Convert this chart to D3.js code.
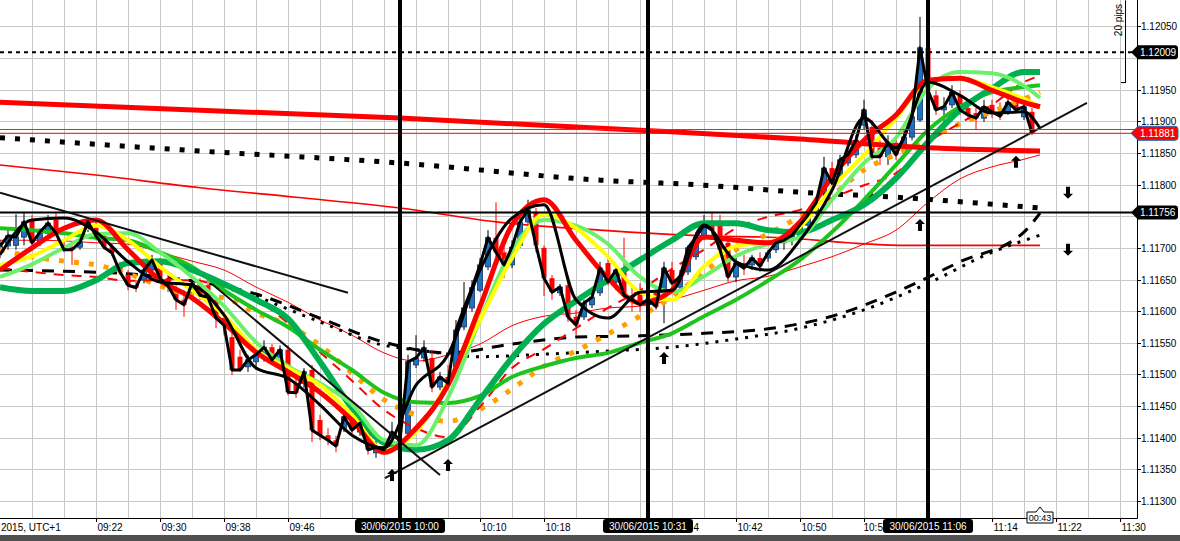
<!DOCTYPE html>
<html><head><meta charset="utf-8">
<script src="https://cdn.jsdelivr.net/npm/d3@7"></script>
<style>
html,body{margin:0;padding:0;background:#fff;overflow:hidden}
svg{display:block}
text{font-family:"Liberation Sans",Arial,sans-serif}
</style></head><body>
<svg id="c" width="1180" height="541"></svg>
<script>
// ---------------- DATA ----------------
const candleStart = "09:10"; // one candle per minute
const opens = [1.11693,1.11703,1.11704,1.11717,1.11744,1.11709,1.11723,1.11744,1.11704,1.11701,
1.11701,1.11733,1.11736,1.11719,1.11701,1.11670,1.11657,1.11641,1.11649,1.11665,
1.11676,1.11652,1.11637,1.11618,1.11629,1.11644,1.11641,1.11618,1.11589,1.11559,
1.11528,1.11512,1.11520,1.11528,1.11543,1.11520,1.11539,1.11486,1.11486,1.11507,
1.11428,1.11404,1.11396,1.11415,1.11433,1.11409,1.11417,1.11376,1.11385,1.11401,
1.11388,1.11407,1.11515,1.11526,1.11526,1.11480,1.11496,1.11512,1.11575,1.11605,
1.11633,1.11670,1.11716,1.11693,1.11673,1.11704,1.11741,1.11757,1.11700,1.11652,
1.11629,1.11641,1.11591,1.11591,1.11610,1.11629,1.11676,1.11646,1.11668,1.11625,
1.11633,1.11610,1.11629,1.11629,1.11665,1.11638,1.11662,1.11686,1.11717,1.11736,
1.11739,1.11708,1.11654,1.11676,1.11673,1.11684,1.11684,1.11697,1.11708,1.11712,
1.11720,1.11736,1.11755,1.11787,1.11826,1.11815,1.11834,1.11847,1.11894,1.11891,
1.11858,1.11844,1.11866,1.11855,1.11875,1.11902,1.12016,1.11941,1.11918,1.11926,
1.11941,1.11921,1.11913,1.11905,1.11926,1.11915,1.11915,1.11930,1.11907,1.11915];
const highs = [1.11712,1.11731,1.11753,1.11757,1.11752,1.11731,1.11752,1.11757,1.11712,1.11706,
1.11716,1.11747,1.11744,1.11725,1.11706,1.11678,1.11665,1.11649,1.11673,1.11689,
1.11684,1.11662,1.11641,1.11633,1.11649,1.11652,1.11649,1.11621,1.11599,1.11570,
1.11539,1.11531,1.11539,1.11554,1.11548,1.11546,1.11546,1.11494,1.11510,1.11515,
1.11436,1.11415,1.11403,1.11441,1.11441,1.11428,1.11425,1.11396,1.11396,1.11425,
1.11404,1.11531,1.11562,1.11554,1.11539,1.11504,1.11515,1.11586,1.11646,1.11649,
1.11684,1.11728,1.11772,1.11704,1.11712,1.11752,1.11776,1.11763,1.11704,1.11657,
1.11643,1.11649,1.11602,1.11618,1.11633,1.11678,1.11689,1.11673,1.11716,1.11637,
1.11644,1.11625,1.11637,1.11678,1.11678,1.11665,1.11704,1.11725,1.11752,1.11757,
1.11752,1.11716,1.11684,1.11689,1.11689,1.11693,1.11697,1.11712,1.11720,1.11728,
1.11741,1.11757,1.11776,1.11844,1.11836,1.11847,1.11855,1.11878,1.11934,1.11902,
1.11870,1.11878,1.11874,1.11886,1.11918,1.12065,1.12020,1.11949,1.11938,1.11957,
1.11949,1.11934,1.11921,1.11934,1.11934,1.11930,1.11937,1.11940,1.11934,1.11921];
const lows = [1.11684,1.11697,1.11697,1.11704,1.11700,1.11703,1.11719,1.11719,1.11693,1.11673,
1.11697,1.11725,1.11712,1.11697,1.11687,1.11657,1.11633,1.11630,1.11644,1.11662,
1.11646,1.11630,1.11602,1.11591,1.11624,1.11618,1.11618,1.11573,1.11562,1.11499,
1.11504,1.11504,1.11507,1.11520,1.11515,1.11513,1.11467,1.11463,1.11479,1.11393,
1.11396,1.11388,1.11377,1.11409,1.11407,1.11403,1.11373,1.11368,1.11373,1.11396,
1.11373,1.11403,1.11510,1.11520,1.11472,1.11475,1.11479,1.11507,1.11570,1.11599,
1.11630,1.11665,1.11684,1.11652,1.11668,1.11700,1.11738,1.11693,1.11624,1.11618,
1.11624,1.11583,1.11562,1.11586,1.11605,1.11624,1.11641,1.11633,1.11621,1.11599,
1.11599,1.11594,1.11602,1.11581,1.11633,1.11633,1.11657,1.11681,1.11712,1.11720,
1.11689,1.11646,1.11646,1.11657,1.11665,1.11662,1.11678,1.11692,1.11697,1.11704,
1.11716,1.11731,1.11752,1.11782,1.11791,1.11807,1.11829,1.11842,1.11886,1.11839,
1.11831,1.11831,1.11839,1.11851,1.11870,1.11899,1.11934,1.11910,1.11897,1.11921,
1.11910,1.11902,1.11886,1.11899,1.11905,1.11902,1.11910,1.11915,1.11902,1.11878];
const closes = [1.11703,1.11719,1.11717,1.11741,1.11708,1.11725,1.11739,1.11723,1.11697,1.11697,
1.11709,1.11741,1.11719,1.11701,1.11692,1.11662,1.11641,1.11637,1.11665,1.11681,
1.11652,1.11640,1.11618,1.11610,1.11644,1.11625,1.11622,1.11589,1.11578,1.11507,
1.11507,1.11523,1.11531,1.11543,1.11523,1.11539,1.11472,1.11471,1.11504,1.11412,
1.11404,1.11396,1.11387,1.11433,1.11412,1.11423,1.11381,1.11385,1.11381,1.11409,
1.11396,1.11520,1.11526,1.11542,1.11480,1.11496,1.11486,1.11570,1.11605,1.11637,
1.11673,1.11716,1.11693,1.11673,1.11701,1.11741,1.11760,1.11704,1.11652,1.11630,
1.11638,1.11591,1.11578,1.11613,1.11622,1.11668,1.11646,1.11665,1.11625,1.11618,
1.11610,1.11618,1.11607,1.11668,1.11644,1.11654,1.11700,1.11717,1.11736,1.11728,
1.11697,1.11654,1.11676,1.11668,1.11684,1.11671,1.11692,1.11708,1.11712,1.11720,
1.11736,1.11752,1.11771,1.11826,1.11802,1.11839,1.11847,1.11870,1.11918,1.11844,
1.11844,1.11866,1.11847,1.11875,1.11907,1.12016,1.11949,1.11918,1.11923,1.11946,
1.11918,1.11910,1.11905,1.11923,1.11915,1.11908,1.11930,1.11918,1.11923,1.11881];

// moving averages sampled every 4 minutes
const maTimes = ["09:10","09:14","09:18","09:22","09:26","09:30","09:34","09:38","09:42","09:46","09:50","09:54","09:58",
"10:02","10:06","10:10","10:14","10:18","10:22","10:26","10:30","10:34","10:38","10:42","10:46","10:50","10:54","10:58",
"11:02","11:06","11:10","11:14","11:18","11:20"];
const redFast = [1.11665,1.11700,1.11731,1.11744,1.11697,1.11649,1.11621,1.11581,1.11535,1.11504,1.11472,1.11428,1.11377,1.11415,1.11483,1.11607,1.11736,1.11776,1.11712,1.11652,1.11613,1.11633,1.11717,1.11712,1.11708,1.11741,1.11812,1.11870,1.11910,1.11965,1.11968,1.11949,1.11930,1.11923];
const yellowMA = [1.11673,1.11687,1.11712,1.11735,1.11712,1.11670,1.11633,1.11594,1.11539,1.11510,1.11483,1.11436,1.11381,1.11409,1.11488,1.11586,1.11684,1.11753,1.11731,1.11686,1.11630,1.11618,1.11671,1.11703,1.11709,1.11733,1.11795,1.11847,1.11905,1.11962,1.11968,1.11954,1.11935,1.11923];
const lightGreenMA = [1.11654,1.11674,1.11700,1.11722,1.11723,1.11693,1.11654,1.11608,1.11551,1.11513,1.11486,1.11453,1.11396,1.11388,1.11463,1.11586,1.11697,1.11744,1.11735,1.11706,1.11654,1.11630,1.11655,1.11687,1.11706,1.11717,1.11776,1.11834,1.11874,1.11952,1.11978,1.11976,1.11956,1.11937];
const darkGreenMA = [1.11638,1.11632,1.11632,1.11649,1.11676,1.11679,1.11665,1.11643,1.11618,1.11588,1.11520,1.11447,1.11392,1.11381,1.11396,1.11460,1.11526,1.11580,1.11616,1.11649,1.11681,1.11712,1.11739,1.11739,1.11728,1.11725,1.11744,1.11768,1.11810,1.11867,1.11918,1.11952,1.11978,1.11978];
const mediumGreenMA = [1.11731,1.11728,1.11723,1.11716,1.11712,1.11693,1.11670,1.11633,1.11602,1.11575,1.11539,1.11507,1.11471,1.11456,1.11455,1.11466,1.11496,1.11513,1.11526,1.11534,1.11550,1.11565,1.11592,1.11618,1.11648,1.11681,1.11725,1.11776,1.11831,1.11886,1.11923,1.11946,1.11954,1.11957];
const orangeMA = [1.11697,1.11686,1.11679,1.11673,1.11659,1.11640,1.11625,1.11621,1.11597,1.11578,1.11546,1.11502,1.11460,1.11436,1.11426,1.11445,1.11477,1.11513,1.11537,1.11564,1.11592,1.11622,1.11662,1.11697,1.11722,1.11750,1.11783,1.11823,1.11848,1.11872,1.11896,1.11915,1.11935,1.11946];
const redDashMA = [1.11668,1.11662,1.11657,1.11654,1.11648,1.11649,1.11649,1.11637,1.11618,1.11581,1.11535,1.11490,1.11444,1.11415,1.11401,1.11449,1.11510,1.11540,1.11573,1.11605,1.11633,1.11667,1.11697,1.11731,1.11749,1.11760,1.11779,1.11799,1.11818,1.11866,1.11897,1.11926,1.11962,1.11972];
const redThinMA = [1.11712,1.11712,1.11711,1.11708,1.11706,1.11693,1.11679,1.11665,1.11638,1.11614,1.11586,1.11562,1.11534,1.11521,1.11531,1.11548,1.11577,1.11592,1.11597,1.11605,1.11608,1.11618,1.11633,1.11648,1.11655,1.11670,1.11686,1.11706,1.11728,1.11772,1.11809,1.11828,1.11840,1.11847];
const blackMA = [1.11689,1.11744,1.11747,1.11725,1.11678,1.11646,1.11641,1.11594,1.11510,1.11494,1.11452,1.11404,1.11384,1.11483,1.11531,1.11665,1.11747,1.11768,1.11618,1.11589,1.11630,1.11633,1.11736,1.11678,1.11665,1.11712,1.11791,1.11905,1.11858,1.11962,1.11941,1.11913,1.11915,1.11889];

// slow averages
const thickRedTimes = ["09:10","10:00","10:30","10:50","11:06","11:20"];
const thickRedMA = [1.11930,1.11905,1.11886,1.11872,1.11858,1.11853];
const redSlowTimes = ["09:10","09:22","09:35","09:47","10:00","10:12","10:25","10:38","10:48","10:56","11:03","11:20"];
const redSlowMA = [1.11831,1.11815,1.11795,1.11780,1.11763,1.11741,1.11728,1.11719,1.11716,1.11708,1.11704,1.11704];
const dotUpperTimes = ["09:10","09:35","10:00","10:25","10:38","10:50","11:02","11:15","11:20"];
const dotUpperMA = [1.11874,1.11853,1.11834,1.11807,1.11799,1.11788,1.11780,1.11768,1.11763];
const dashLowTimes = ["09:10","09:18","09:26","09:34","09:42","09:50","09:58","10:06","10:14","10:22","10:30","10:38","10:46","10:54","11:02","11:10","11:18","11:20"];
const dashLowMA = [1.11665,1.11663,1.11659,1.11648,1.11627,1.11589,1.11551,1.11534,1.11548,1.11559,1.11561,1.11565,1.11572,1.11592,1.11630,1.11678,1.11725,1.11755];
const dotLowTimes = ["09:42","09:50","09:58","10:02","10:10","10:18","10:26","10:34","10:42","10:50","10:58","11:06","11:14","11:20"];
const dotLowMA = [1.11624,1.11583,1.11546,1.11539,1.11528,1.11532,1.11537,1.11543,1.11556,1.11573,1.11602,1.11644,1.11693,1.11720];

// annotations
const trendLines = [
  [["09:10",1.11787],["09:53:30",1.11629]],
  [["09:36:30",1.11643],["10:05",1.11341]],
  [["09:58:07",1.11336],["11:25:52",1.11929]]
];
const arrowsUp = [["09:59",1.11341],["10:06",1.11357],["10:33",1.11526],["11:05",1.11736],["11:17",1.11836]];
const arrowsDown = [["11:23:30",1.11787],["11:23:30",1.11697]];
const vLines = ["10:00","10:31","11:06"];
const vLineLabels = ["30/06/2015 10:00","30/06/2015 10:31","30/06/2015 11:06"];
const levelBlack = 1.11756, levelDotted = 1.12009, bidPrice = 1.11881, askPrice = 1.11887;
// 1.12000 and 1.11750 sit under the level tags, as in the original
const priceTicks = [1.1130,1.1135,1.1140,1.1145,1.1150,1.1155,1.1160,1.1165,1.1170,1.1180,1.1185,1.1190,1.1195,1.1205];
// time labels; those under the black time tags are shown only by their visible part
const timeLabels = [["09:22","09:22"],["09:30","09:30"],["09:38","09:38"],["09:46","09:46"],["10:10","10:10"],["10:18","10:18"],
  ["10:34","4"],["10:42","10:42"],["10:50","10:50"],["10:58","10:5"],["11:14","11:14"],["11:22","11:22"],["11:30","11:30"]];
const dateLabel = "2015, UTC+1";
const pipsRange = [1.12091,1.11962];
const countdown = "00:43";

// ---------------- CHART ----------------
const parseT = s => { const p = s.split(":").map(Number); return new Date(2015,5,30,p[0],p[1],p[2]||0); };
const plotR = 1137, plotB = 518;
const x = d3.scaleTime().domain([parseT("09:10"), parseT("11:30")]).range([0, 1120]);
const y = d3.scaleLinear().domain([1.113, 1.1165]).range([501, 279.5]);
const svg = d3.select("#c");
svg.append("rect").attr("width",1180).attr("height",541).attr("fill","#fff");
svg.append("defs").append("clipPath").attr("id","clip").append("rect")
  .attr("x",0).attr("y",0).attr("width",plotR).attr("height",plotB);
const g = svg.append("g").attr("clip-path","url(#clip)");

// grid
const t0 = +parseT("09:10");
d3.range(4, 145, 4).forEach(m => {
  const xx = Math.round(x(new Date(t0 + m*60000))) + 0.5;
  g.append("line").attr("x1",xx).attr("x2",xx).attr("y1",0).attr("y2",plotB).attr("stroke","#c8c8c8");
});
d3.range(1.1130, 1.12101, 0.0005).forEach(v => {
  const yy = Math.round(y(v)) + 0.5;
  g.append("line").attr("x1",0).attr("x2",plotR).attr("y1",yy).attr("y2",yy).attr("stroke","#c8c8c8");
});

const lg = d3.line().x(d=>x(d[0])).y(d=>y(d[1])).curve(d3.curveMonotoneX);
function drawMA(times, vals, color, w, dash, cap){
  g.append("path").datum(times.map((t,i)=>[parseT(t), vals[i]]))
   .attr("d", lg).attr("fill","none").attr("stroke",color).attr("stroke-width",w)
   .attr("stroke-dasharray", dash || null).attr("stroke-linecap", cap || "butt").attr("stroke-linejoin","round");
}

// slow thin lines behind candles
drawMA(redSlowTimes, redSlowMA, "#ff0000", 1.6);
drawMA(maTimes, redThinMA, "#ff0000", 1);
drawMA(dotUpperTimes, dotUpperMA, "#000", 5, "5,10");
drawMA(dashLowTimes, dashLowMA, "#000", 3, "12,9");
drawMA(dotLowTimes, dotLowMA, "#000", 3, "3,7");

// candles
const candles = closes.map((c,i)=>({t:new Date(+parseT(candleStart)+i*60000), o:opens[i], h:highs[i], l:lows[i], c}));
const cg = g.append("g");
candles.forEach(d => {
  const up = d.c >= d.o, cx = x(d.t);
  cg.append("line").attr("x1",cx).attr("x2",cx).attr("y1",y(d.h)).attr("y2",y(d.l))
    .attr("stroke", up ? "#000" : "#ff0000").attr("stroke-width",1);
  const top = y(Math.max(d.o,d.c)), bot = y(Math.min(d.o,d.c));
  cg.append("rect").attr("x",cx-2.5).attr("width",5).attr("y",top).attr("height",Math.max(1.5,bot-top))
    .attr("fill", up ? "#1f70c1" : "#ff0000").attr("stroke", up ? "#0b3566" : "none").attr("stroke-width",0.8);
});

// moving averages
drawMA(maTimes, orangeMA, "#ffa000", 5, "5,10");
drawMA(maTimes, redDashMA, "#ff0000", 2, "10,8");
drawMA(maTimes, mediumGreenMA, "#1ec31e", 4);
drawMA(maTimes, darkGreenMA, "#00b050", 6);
drawMA(maTimes, lightGreenMA, "#6cf06c", 4);
drawMA(maTimes, yellowMA, "#ffff00", 4);
drawMA(maTimes, redFast, "#ff0000", 5);
drawMA(thickRedTimes, thickRedMA, "#ff0000", 5);
drawMA(maTimes, blackMA, "#000", 3);
g.append("path").datum(candles).attr("fill","none").attr("stroke","#000").attr("stroke-width",3)
  .attr("stroke-linejoin","round")
  .attr("d", d3.line().x(d=>x(d.t)).y(d=>y(d.c)));

// trend lines
trendLines.forEach(l => {
  g.append("line").attr("x1",x(parseT(l[0][0]))).attr("y1",y(l[0][1]))
   .attr("x2",x(parseT(l[1][0]))).attr("y2",y(l[1][1])).attr("stroke","#111").attr("stroke-width",2);
});

// horizontal levels
const hl = (v,color,w,dash) => g.append("line").attr("x1",0).attr("x2",plotR).attr("y1",y(v)).attr("y2",y(v))
   .attr("stroke",color).attr("stroke-width",w).attr("stroke-dasharray",dash||null);
hl(levelBlack,"#000",2);
hl(levelDotted,"#000",2,"4,4");
hl(askPrice,"#1f6fbf",1);
hl(bidPrice,"#ff0000",1);

// vertical lines
vLines.forEach(t => g.append("line").attr("x1",x(parseT(t))).attr("x2",x(parseT(t)))
   .attr("y1",0).attr("y2",plotB).attr("stroke","#000").attr("stroke-width",4));

// arrows
function arrow(t, v, up){
  const cx = x(parseT(t)), cy = y(v), s = up ? 1 : -1;
  const p = [[0,-6],[5,-1],[2,-1],[2,6],[-2,6],[-2,-1],[-5,-1]].map(q=>[cx+q[0], cy+s*q[1]]);
  g.append("path").attr("d","M"+p.map(q=>q.join(",")).join("L")+"Z").attr("fill","#000");
}
arrowsUp.forEach(a=>arrow(a[0],a[1],true));
arrowsDown.forEach(a=>arrow(a[0],a[1],false));

// 20 pips bracket
const bx = 1125;
svg.append("line").attr("x1",bx+0.5).attr("x2",bx+0.5).attr("y1",y(pipsRange[0])).attr("y2",y(pipsRange[1])).attr("stroke","#000");
svg.append("line").attr("x1",bx-4).attr("x2",bx+1).attr("y1",y(pipsRange[1])+0.5).attr("y2",y(pipsRange[1])+0.5).attr("stroke","#000");
svg.append("text").attr("transform",`translate(${bx-3},20) rotate(-90)`).attr("text-anchor","middle")
  .attr("font-size",10).attr("fill","#000").text("20 pips");

// axes
svg.append("line").attr("x1",0).attr("x2",plotR+0.5).attr("y1",plotB+0.5).attr("y2",plotB+0.5).attr("stroke","#000");
svg.append("line").attr("x1",plotR+0.5).attr("x2",plotR+0.5).attr("y1",0).attr("y2",plotB+0.5).attr("stroke","#000");
priceTicks.forEach(v => {
  const yy = Math.round(y(v))+0.5;
  svg.append("line").attr("x1",plotR).attr("x2",plotR+4).attr("y1",yy).attr("y2",yy).attr("stroke","#000");
  svg.append("text").attr("x",plotR+4).attr("y",yy).attr("dy","0.35em").attr("font-size",10).attr("fill","#000")
    .text(d3.format(".5f")(v));
});
const fullW = 25.5; // width of an "hh:mm" label
timeLabels.forEach(([t, shown]) => {
  const xx = Math.round(x(parseT(t)))+0.5;
  svg.append("line").attr("x1",xx).attr("x2",xx).attr("y1",plotB).attr("y2",plotB+4).attr("stroke","#000");
  if (shown === t) {
    svg.append("text").attr("x",xx+1).attr("y",plotB+13).attr("font-size",10).attr("fill","#000").text(shown);
  } else if (shown.length === 1) {
    svg.append("text").attr("x",xx+1+fullW).attr("y",plotB+13).attr("font-size",10).attr("text-anchor","end").attr("fill","#000").text(shown);
  } else {
    svg.append("text").attr("x",xx-1).attr("y",plotB+13).attr("font-size",10).attr("fill","#000").text(shown);
  }
});
svg.append("text").attr("x",1).attr("y",plotB+13).attr("font-size",10).attr("fill","#000").text(dateLabel);

// price tags
function tag(v, fill, stroke){
  const yy = y(v);
  svg.append("path").attr("d",`M1131,${yy} L1138,${yy-7} H1175 Q1178,${yy-7} 1178,${yy-4} V${yy+4} Q1178,${yy+7} 1175,${yy+7} H1138 Z`)
    .attr("fill",fill).attr("stroke",stroke||"none");
  svg.append("text").attr("x",1140).attr("y",yy).attr("dy","0.35em").attr("font-size",10).attr("fill","#fff").text(d3.format(".5f")(v));
}
tag(levelDotted,"#000");
tag(bidPrice,"#ff0000","#1f6fbf");
tag(levelBlack,"#000");

// time tags
vLines.forEach((t,i) => {
  const xx = x(parseT(t));
  svg.append("rect").attr("x",xx-45).attr("y",plotB+1).attr("width",90).attr("height",14).attr("rx",3).attr("fill","#000");
  svg.append("text").attr("x",xx).attr("y",plotB+12).attr("text-anchor","middle").attr("font-size",10).attr("fill","#fff").text(vLineLabels[i]);
});

// countdown box
svg.append("path").attr("d","M1027,512 H1036 L1040,507 L1044,512 H1053 V523 H1027 Z").attr("fill","#fff").attr("stroke","#000");
svg.append("text").attr("x",1040).attr("y",521).attr("text-anchor","middle").attr("font-size",9).attr("fill","#000").text(countdown);

// bottom bar
svg.append("rect").attr("x",0).attr("y",535).attr("width",1180).attr("height",6).attr("fill","#505050");
</script>
</body></html>
